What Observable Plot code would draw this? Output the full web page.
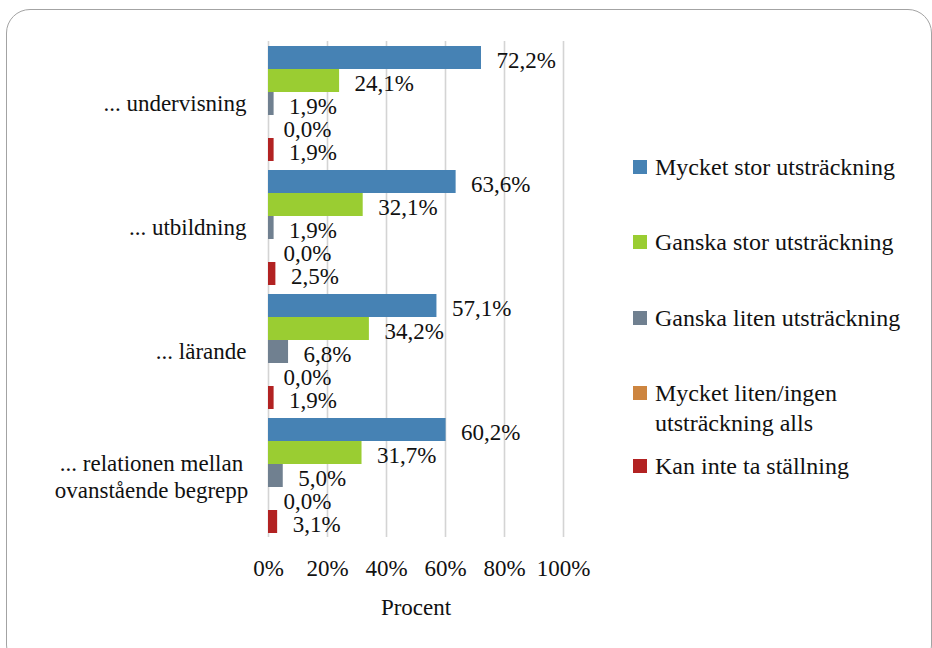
<!DOCTYPE html>
<html>
<head>
<meta charset="utf-8">
<script src="https://cdn.jsdelivr.net/npm/d3@7"></script>
<script src="https://cdn.jsdelivr.net/npm/@observablehq/plot@0.6"></script>
<style>
  html, body { margin: 0; padding: 0; background: #fff; }
  body { width: 932px; height: 648px; overflow: hidden; position: relative; color: #111; font-family: 'Liberation Serif'; }
  #chart { position: absolute; left: 0; top: 0; }
  #chart svg, #chart svg text, #chart svg tspan { font-family: 'Liberation Serif' !important; }
  #frame { position: absolute; left: 6px; top: 9px; width: 926px; height: 660px; border: 1.5px solid #a3a3a3; border-radius: 24px; pointer-events: none; box-sizing: border-box; }
</style>
</head>
<body>
<div id="chart"></div>
<div id="legend"></div>
<div id="frame"></div>
<script>
const categories = ["... undervisning", "... utbildning", "... lärande", "... relationen mellan\novanstående begrepp"];
const series = ["Mycket stor utsträckning", "Ganska stor utsträckning", "Ganska liten utsträckning", "Mycket liten/ingen utsträckning alls", "Kan inte ta ställning"];
const legendLabels = ["Mycket stor utsträckning", "Ganska stor utsträckning", "Ganska liten utsträckning", "Mycket liten/ingen\nutsträckning alls", "Kan inte ta ställning"];
const colors = ["#4682B4", "#9ACD32", "#708090", "#CD853F", "#B22222"];
const mycketStor = [72.2, 63.6, 57.1, 60.2];
const ganskaStor = [24.1, 32.1, 34.2, 31.7];
const ganskaLiten = [1.9, 1.9, 6.8, 5.0];
const mycketLiten = [0.0, 0.0, 0.0, 0.0];
const kanInte = [1.9, 2.5, 1.9, 3.1];
const xTicks = [0, 20, 40, 60, 80, 100];

const seriesValues = [mycketStor, ganskaStor, ganskaLiten, mycketLiten, kanInte];
const data = categories.flatMap((c, i) => series.map((s, j) => ({category: c, series: s, value: seriesValues[j][i]})));
const multi = categories.filter(c => c.includes("\n"));
const single = categories.filter(c => !c.includes("\n"));
const FONT = "Liberation Serif";

const chart = Plot.plot({
  width: 932,
  height: 648,
  marginLeft: 268,
  marginRight: 369,
  marginTop: 39,
  marginBottom: 110,
  style: {fontFamily: FONT, fontSize: "23px", background: "transparent", color: "#111"},
  x: {domain: [0, 100], axis: null},
  y: {domain: series, paddingInner: 0, paddingOuter: 0.18, axis: null},
  fy: {domain: categories, padding: 0, axis: null},
  color: {domain: series, range: colors},
  marks: [
    Plot.gridX(xTicks, {stroke: "#d4d4d4", strokeOpacity: 1, strokeWidth: 1.6}),
    Plot.barX(data, {x: "value", y: "series", fy: "category", fill: "series"}),
    Plot.text(data, {x: "value", y: "series", fy: "category", text: d => d.value.toFixed(1).replace(".", ",") + "%", textAnchor: "start", dx: 15, dy: 3, fill: "#111", fontFamily: FONT}),
    Plot.text(single, {fy: d => d, text: d => d, frameAnchor: "left", textAnchor: "end", dx: -22, fill: "#111", fontFamily: FONT}),
    Plot.text(multi, {fy: d => d, text: d => d, frameAnchor: "left", textAnchor: "middle", dx: -117, lineHeight: 1.18, fill: "#111", fontFamily: FONT}),
    Plot.axisX(xTicks, {tickFormat: d => d + "%", tickSize: 0, tickPadding: 22, label: "Procent", labelAnchor: "center", labelOffset: 77, labelArrow: "none", fill: "#111", fontFamily: FONT})
  ]
});
document.getElementById("chart").appendChild(chart);

const legendCenters = [167, 242, 318, 408, 466];
const legend = document.getElementById("legend");
legendLabels.forEach((lab, i) => {
  const lines = lab.split("\n");
  const item = document.createElement("div");
  item.setAttribute("style", `position:absolute;left:633px;top:${legendCenters[i] - lines.length * 15}px;font-family:'Liberation Serif';font-size:24px;line-height:30px;`);
  const sw = document.createElement("div");
  sw.setAttribute("style", `position:absolute;left:0;top:8px;width:14px;height:14px;background:${colors[i]};`);
  const lb = document.createElement("div");
  lb.setAttribute("style", "position:absolute;left:22px;top:0;font-family:'Liberation Serif';white-space:nowrap;");
  lines.forEach((ln, k) => {
    if (k) lb.appendChild(document.createElement("br"));
    lb.appendChild(document.createTextNode(ln));
  });
  item.appendChild(sw);
  item.appendChild(lb);
  legend.appendChild(item);
});
</script>
</body>
</html>
